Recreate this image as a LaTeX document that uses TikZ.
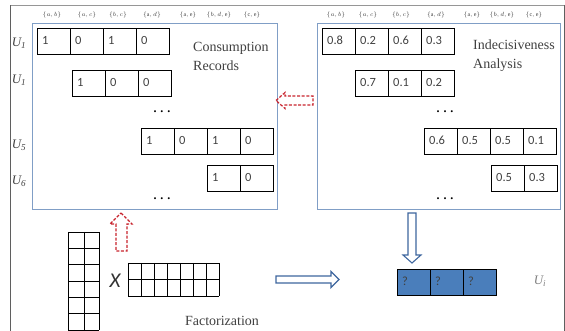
\documentclass[tikz,border=0pt]{standalone}
\usepackage{fontspec}
\setmainfont{Liberation Serif}
\newfontfamily\cellfont{Carlito}

\definecolor{boxblue}{RGB}{128,158,198}
\definecolor{framegray}{RGB}{95,95,95}
\definecolor{toplinegray}{RGB}{150,150,150}
\definecolor{arrowred}{RGB}{200,35,45}
\definecolor{arrowblue}{RGB}{62,102,158}
\definecolor{cellblue}{RGB}{74,126,187}
\definecolor{textgray}{RGB}{64,64,64}

\tikzset{
  cellline/.style={line width=0.9pt},
  celltext/.style={anchor=base west, inner sep=0pt, text=textgray,
    font=\cellfont\fontsize{12.5}{14}\selectfont},
  userlabel/.style={inner sep=0pt, text=textgray, font=\fontsize{13}{15}\selectfont\itshape},
  header/.style={inner sep=0pt, text=textgray, font=\fontsize{6}{7}\selectfont},
  boxtitle/.style={anchor=west, inner sep=0pt, align=left, text=textgray,
    font=\fontsize{14}{19}\selectfont},
  dots/.style={inner sep=0pt, font=\bfseries\fontsize{12}{14}\selectfont},
  recordbox/.style={draw=boxblue, line width=0.9pt},
  redarrow/.style={draw=arrowred, line width=1.2pt, dash pattern=on 3pt off 1.6pt},
  bluearrow/.style={draw=arrowblue, line width=1.1pt, fill=white}
}

% one row of cells: [style] name, x, y, values
\newcommand{\cellrow}[5][]{%
  \foreach \v [count=\i from 0] in {#5} {
    \draw[cellline,#1] (#3+33*\i,#4) rectangle ++(33,26);
    \node[celltext] (#2-\i) at (#3+33*\i+5,#4+16.5) {\v};
  }}

\begin{document}
\begin{tikzpicture}[x=1pt,y=-1pt]
\useasboundingbox (0,0) rectangle (565,331);

% frame
\draw[toplinegray, line width=0.9pt] (10,5) -- (564,5);
\draw[framegray, line width=1pt] (10,331) -- (10,5);
\draw[framegray, line width=1pt] (564,5) -- (564,331);

% consumption records
\draw[recordbox] (32,23) rectangle (277,209);
\foreach \h/\x in {{$\{a,b\}$}/52,{$\{a,c\}$}/87,{$\{b,c\}$}/118,{$\{\mathrm{a},d\}$}/152,
  {$\{\mathrm{a},\mathrm{e}\}$}/188,{$\{b,d,\mathrm{e}\}$}/219,{$\{\mathrm{c},\mathrm{e}\}$}/252}
  \node[header] at (\x,15) {\h};
\node[userlabel] (u1) at (19,43) {U\textsubscript{1}};
\node[userlabel] (u2) at (19,80) {U\textsubscript{1}};
\node[userlabel] (u5) at (19,145) {U\textsubscript{5}};
\node[userlabel] (u6) at (19,181) {U\textsubscript{6}};
\cellrow{ca}{37}{28.5}{1,0,1,0}
\cellrow{cb}{72}{70.5}{1,0,0}
\cellrow{cc}{141}{128}{1,0,1,0}
\cellrow{cd}{207}{165}{1,0}
\node[dots] (cdots1) at (162,112) {.\hspace{4pt}.\hspace{4pt}.};
\node[dots] (cdots2) at (162,199) {.\hspace{4pt}.\hspace{4pt}.};
\node[boxtitle] (crec) at (193,56) {Consumption\\Records};

% indecisiveness analysis
\draw[recordbox] (317,23) rectangle (560,209);
\foreach \h/\x in {{$\{a,b\}$}/336,{$\{a,c\}$}/368,{$\{b,c\}$}/401,{$\{\mathrm{a},d\}$}/436,
  {$\{\mathrm{a},\mathrm{e}\}$}/472,{$\{b,d,\mathrm{e}\}$}/502,{$\{\mathrm{c},\mathrm{e}\}$}/534}
  \node[header] at (\x,15) {\h};
\cellrow{ia}{322}{28.5}{0.8,0.2,0.6,0.3}
\cellrow{ib}{355}{70.5}{0.7,0.1,0.2}
\cellrow{ic}{424}{128}{0.6,0.5,0.5,0.1}
\cellrow{id}{491}{165}{0.5,0.3}
\node[dots] (idots1) at (445,112) {.\hspace{4pt}.\hspace{4pt}.};
\node[dots] (idots2) at (445,199) {.\hspace{4pt}.\hspace{4pt}.};
\node[boxtitle] (iana) at (473,56) {Indecisiveness\\Analysis};

% dashed red arrows
\draw[redarrow] (276,100.5) -- (285,92.5) -- (285,96) -- (313,96) -- (313,105) -- (285,105) -- (285,108.5) -- cycle;
\draw[redarrow] (121,213) -- (132,224) -- (127,224) -- (127,251) -- (116,251) -- (116,224) -- (110,224) -- cycle;

% factorization
\foreach \i in {0,...,6}
  \draw[cellline] (68,232+16.33*\i) -- (99,232+16.33*\i);
\foreach \x in {68,84,99}
  \draw[cellline] (\x,232) -- (\x,330);
\node[inner sep=0pt, text=black!80, font=\cellfont\itshape\fontsize{21}{24}\selectfont] (times) at (115,281) {X};
\foreach \y in {263,279.5,296}
  \draw[cellline] (128,\y) -- (219,\y);
\foreach \i in {0,...,7}
  \draw[cellline] (128+13*\i,263) -- (128+13*\i,296);
\node[anchor=base, inner sep=0pt, text=textgray, font=\fontsize{14}{16}\selectfont] (fact) at (222,325) {Factorization};

% blue arrows
\draw[bluearrow] (276,276) -- (331,276) -- (331,271.5) -- (339,279.5) -- (331,287.5) -- (331,283) -- (276,283) -- cycle;
\draw[bluearrow] (408,213) -- (416,213) -- (416,255) -- (421,255) -- (412,263) -- (403,255) -- (408,255) -- cycle;

% predicted user
\cellrow[fill=cellblue]{pa}{397}{269}{?,?,?}
\node[userlabel, text=gray] (ui) at (540,281) {U\textsubscript{i}};

\end{tikzpicture}
\end{document}
